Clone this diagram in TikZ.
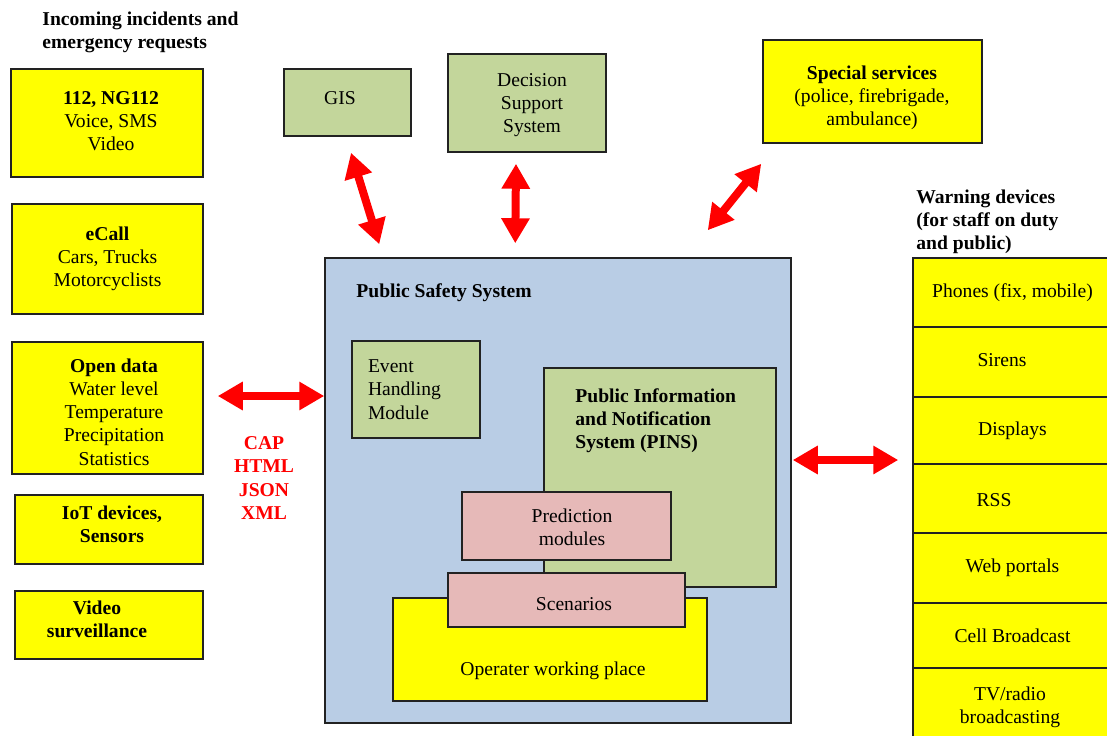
\documentclass[tikz,border=0pt]{standalone}
\usepackage{fontspec}
\setmainfont{Liberation Serif}
\usetikzlibrary{arrows.meta,calc}
\definecolor{ybox}{HTML}{FFFF00}
\definecolor{gbox}{HTML}{C3D69B}
\definecolor{bbox}{HTML}{B9CDE5}
\definecolor{pbox}{HTML}{E6B9B8}
\definecolor{rarr}{HTML}{FF0000}
\definecolor{edge}{HTML}{222222}
\tikzset{
  every node/.style={font=\fontsize{9.8}{11.6}\selectfont},
  box/.style={draw=edge, line width=0.75pt, inner sep=0pt, align=center},
  ybx/.style={box, fill=ybox},
  gbx/.style={box, fill=gbox},
  pbx/.style={box, fill=pbox},
  txt/.style={inner sep=0pt, align=center},
  bold/.style={font=\fontsize{9.8}{11.6}\selectfont\bfseries},
  dbl/.style={draw=rarr, line width=4pt,
    {Triangle[length=12.5pt,width=13.5pt]}-{Triangle[length=12.5pt,width=13.5pt]}},
  sz/.style 2 args={minimum width=#1*0.5pt, minimum height=#2*0.5pt}
}
\begin{document}
\begin{tikzpicture}[x=0.5pt,y=-0.5pt]
\useasboundingbox (0,0) rectangle (1107,735);
\clip (0,0) rectangle (1107,735);
% left header
\node[txt, bold, anchor=west, align=left] (hdrl) at (42,32) {Incoming incidents and\\emergency requests};
% left boxes
\node[ybx, sz={192}{108}] (n112) at (107,123) {};
\node[txt] (n112t) at (111,121) {\textbf{112, NG112}\\Voice, SMS\\Video};
\node[ybx, sz={191}{110}] (ecall) at (107.5,259) {\textbf{eCall}\\Cars, Trucks\\Motorcyclists};
\node[ybx, sz={191}{132}] (open) at (107.5,408) {};
\node[txt] (opent) at (114,412) {\textbf{Open data}\\Water level\\Temperature\\Precipitation\\Statistics};
\node[ybx, sz={188}{69}] (iot) at (109,529.5) {};
\node[txt, bold] (iott) at (112,524) {IoT devices,\\Sensors};
\node[ybx, sz={188}{68}] (video) at (109,625) {};
\node[txt, bold] (videot) at (97,619) {Video\\surveillance};
\node[txt, bold, text=rarr] (fmt) at (264,478) {CAP\\HTML\\JSON\\XML};
% top boxes
\node[gbx, sz={127}{67}] (gis) at (347.5,102.5) {};
\node[txt] (gist) at (340,98) {GIS};
\node[gbx, sz={158}{98}] (dss) at (527,103) {};
\node[txt] (dsst) at (532,105) {Decision\\Support\\System};
\node[ybx, sz={219}{103}] (ss) at (872.5,91.5) {};
\node[txt] (sst) at (872,98) {\textbf{Special services}\\(police, firebrigade,\\ambulance)};
% public safety system
\node[box, fill=bbox, sz={466}{465}] (pss) at (558,490.5) {};
\node[txt, bold, anchor=west] (psst) at (356,293) {Public Safety System};
\node[gbx, inner xsep=8pt, text width=48pt, minimum height=48.5pt, align=left] (ehm) at (416,389.5) {Event\\Handling\\Module};
\node[gbx, sz={232}{219}] (pins) at (660,477.5) {};
\node[txt, bold, anchor=west, align=left] (pinst) at (575,421) {Public Information\\and Notification\\System (PINS)};
\node[ybx, sz={314}{103}] (oper) at (550,649.5) {};
\node[txt] (opert) at (553,671) {Operater working place};
\node[pbx, sz={209}{68}] (pred) at (566.5,526) {};
\node[txt] (predt) at (572,527) {Prediction\\modules};
\node[pbx, sz={237}{54}] (scen) at (566.5,600) {};
\node[txt] (scent) at (574,604) {Scenarios};
% right header
\node[txt, bold, anchor=west, align=left] (hdrr) at (916,222) {Warning devices\\(for staff on duty\\and public)};
% right column
\node[ybx, sz={199}{69}] (w1) at (1012.5,292.5) {Phones (fix, mobile)};
\node[ybx, sz={199}{70}] (w2) at (1012.5,362) {};
\node[txt] (w2t) at (1002,360) {Sirens};
\node[ybx, sz={199}{67}] (w3) at (1012.5,430.5) {Displays};
\node[ybx, sz={199}{69}] (w4) at (1012.5,498.5) {};
\node[txt] (w4t) at (994,500) {RSS};
\node[ybx, sz={199}{70}] (w5) at (1012.5,568) {Web portals};
\node[ybx, sz={199}{65}] (w6) at (1012.5,635.5) {Cell Broadcast};
\node[ybx, sz={199}{78}] (w7) at (1012.5,707) {};
\node[txt] (w7t) at (1010,707) {TV/radio\\broadcasting};
% arrows
\draw[dbl] ($(open.east)+(14,-12)$) -- ($(pss.west)+(0,-94.5)$);
\draw[dbl] ($(gis.south)+(3.5,16)$) -- ($(pss.north west)+(55,-13)$);
\draw[dbl] ($(dss.south)+(-11,11)$) -- ($(pss.north west)+(191,-14)$);
\draw[dbl] ($(ss.south west)+(-1,20)$) -- ($(pss.north east)+(-84,-27)$);
\draw[dbl] ($(pss.east)+(1,-30.5)$) -- ($(w4.west)+(-14,-38.5)$);
\end{tikzpicture}
\end{document}
